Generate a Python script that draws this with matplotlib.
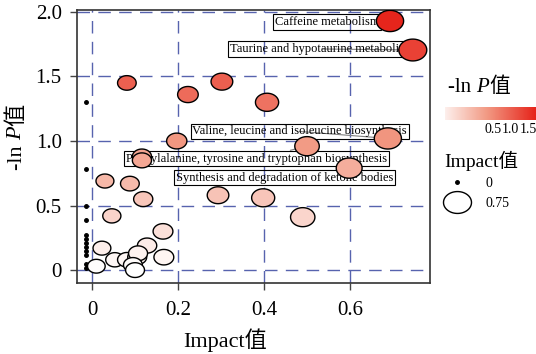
import numpy as np
import matplotlib
matplotlib.use('Agg')
import matplotlib.pyplot as plt
from matplotlib.path import Path
from matplotlib.lines import Line2D
from matplotlib.colors import LinearSegmentedColormap, Normalize

plt.rcParams['font.family'] = ['Liberation Serif', 'Noto Sans CJK SC']

# pathway points: impact (x) and -ln P (y)
impact = [0.693, 0.746, 0.081, 0.223, 0.302, 0.407, 0.197, 0.116, 0.116,
          0.688, 0.500, 0.598, 0.030, 0.088, 0.119, 0.046, 0.293, 0.398,
          0.490, 0.165, 0.128, 0.167, 0.023, 0.010, 0.053, 0.081, 0.105,
          0.107, 0.095, 0.100]
lnp = [1.93, 1.705, 1.45, 1.36, 1.46, 1.30, 1.00, 0.88, 0.85,
       1.02, 0.96, 0.79, 0.69, 0.67, 0.55, 0.42, 0.58, 0.56,
       0.41, 0.30, 0.19, 0.10, 0.17, 0.03, 0.08, 0.08, 0.10,
       0.13, 0.04, 0.00]
# pathways with impact 0
zero_lnp = [1.30, 0.78, 0.50, 0.39, 0.27, 0.24, 0.21, 0.18, 0.15, 0.12, 0.05, 0.02]

labels = ['Caffeine metabolism',
          'Taurine and hypotaurine metabolism',
          'Valine, leucine and isoleucine biosynthesis',
          'Phenylalanine, tyrosine and tryptophan biosynthesis',
          'Synthesis and degradation of ketone bodies']
label_point = [0, 1, 9, 10, 11]
label_xy = [(0.547, 1.92), (0.534, 1.713), (0.483, 1.074), (0.383, 0.864), (0.447, 0.717)]

xticks = [0, 0.2, 0.4, 0.6]
xticklabels = ['0', '0.2', '0.4', '0.6']
yticks = [0, 0.5, 1.0, 1.5, 2.0]
yticklabels = ['0', '0.5', '1.0', '1.5', '2.0']
cbar_ticks = [0.5, 1.0, 1.5]

cmap = LinearSegmentedColormap.from_list('wr', [(0, '#ffffff'), (0.5, '#f29a84'), (1, '#e6231a')])
norm = Normalize(0, 1.95)

# ellipse marker (bubbles look stretched in the original)
t = np.linspace(0, 2 * np.pi, 80)
ell = Path(np.column_stack([np.cos(t), np.sin(t) / 1.28]), closed=True)


def width_px(v):
    return 3.5 if v <= 0 else 17.5 + 14 * v


def size_pts2(v):
    return (width_px(v) * 72 / 100) ** 2


fig = plt.figure(figsize=(5.36, 3.54), dpi=100)
ax = fig.add_axes([77 / 536, 1 - 283 / 354, 353 / 536, 273 / 354])
ax.set_xlim(-0.035, 0.786)
ax.set_ylim(-0.1, 2.015)

for v in xticks:
    ax.axvline(v, color='#5763ae', lw=1.0, dashes=(9, 6), zorder=1)
for v in yticks:
    ax.axhline(v, color='#5763ae', lw=1.0, dashes=(9, 6), zorder=1)

# labels with boxes (transparent) and segments
for name, i, (lx, ly) in zip(labels, label_point, label_xy):
    ax.annotate(name, xy=(impact[i], lnp[i]), xytext=(lx, ly), ha='center', va='center',
                fontsize=9, zorder=2,
                bbox=dict(boxstyle='square,pad=0.15', fc='none', ec='black', lw=0.8),
                arrowprops=dict(arrowstyle='-', color='grey', lw=0.8, shrinkA=0, shrinkB=0))

ax.scatter(np.zeros(len(zero_lnp)) - 0.014, zero_lnp, s=size_pts2(0), marker='o',
           color='black', zorder=3)
ax.scatter(impact, lnp, s=[size_pts2(v) for v in impact], c=lnp, cmap=cmap, norm=norm,
           marker=ell, edgecolors='black', linewidths=1.0, zorder=3)

ax.set_xticks(xticks, xticklabels, fontsize=15)
ax.set_yticks(yticks, yticklabels, fontsize=15)
ax.tick_params(direction='out', length=5, width=1.0, color='#444444')
ax.tick_params(axis='x', pad=8)
ax.tick_params(axis='y', pad=6)
for s in ax.spines.values():
    s.set_color('#333333')
    s.set_linewidth(1.2)

fig.text(225 / 536, 1 - 340 / 354, 'Impact值', fontsize=16, ha='center', va='center')

# y label: -ln P值 with italic P
t1 = fig.text(17 / 536, 1 - 170 / 354, '-ln ', fontsize=16, rotation=90, ha='center', va='bottom')
t2 = ax.annotate('P', xycoords=t1, xy=(0.5, 1), fontsize=16, style='italic', rotation=90,
                 ha='center', va='bottom', annotation_clip=False)
ax.annotate('值', xycoords=t2, xy=(0.5, 1), fontsize=16, rotation=90,
            ha='center', va='bottom', annotation_clip=False)

# colour legend
h1 = fig.text(448 / 536, 1 - 88 / 354, '-ln ', fontsize=15, ha='left', va='center')
h2 = ax.annotate('P', xycoords=h1, xy=(1, 0), fontsize=15, style='italic', va='bottom',
                 annotation_clip=False)
ax.annotate('值', xycoords=h2, xy=(1, 0), fontsize=15, va='bottom', annotation_clip=False)

cax = fig.add_axes([445 / 536, 1 - 120 / 354, 91 / 536, 13 / 354])
grad = np.linspace(0.15, 1.95, 256)[None, :]
cax.imshow(grad, cmap=cmap, norm=norm, aspect='auto', extent=[-0.86, 1.72, 0, 1])
cax.set_xlim(-0.86, 1.72)
cax.set_yticks([])
cax.set_xticks(cbar_ticks, ['0.5', '1.0', '1.5'], fontsize=10)
cax.tick_params(length=0, pad=2)
for s in cax.spines.values():
    s.set_visible(False)

# size legend
handles = [Line2D([], [], marker='o', markersize=width_px(0) * 0.72, color='black', linestyle='none'),
           Line2D([], [], marker=ell, markersize=width_px(0.75) * 0.72, mfc='white', mec='black',
                  mew=1.0, linestyle='none')]
leg = fig.legend(handles, ['0', '0.75'], title='Impact值', loc='upper left',
                 bbox_to_anchor=(437 / 536, 1 - 144 / 354), frameon=False, fontsize=10,
                 title_fontsize=14, handlelength=1.9, handletextpad=1.1, labelspacing=0.45,
                 borderpad=0, alignment='left')

fig.savefig('out.png', dpi=100)
